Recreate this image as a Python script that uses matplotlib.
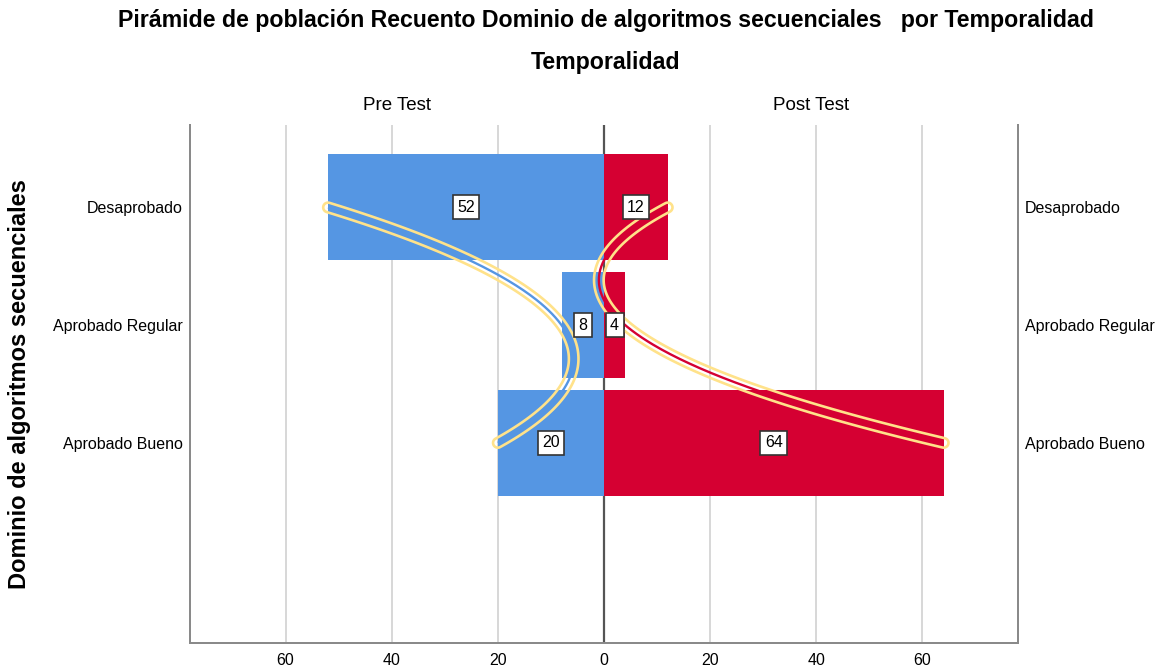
import numpy as np
import matplotlib
matplotlib.use('Agg')
import matplotlib.pyplot as plt
from matplotlib.patches import Polygon

categories = ['Desaprobado', 'Aprobado Regular', 'Aprobado Bueno']
pre_test = [52, 8, 20]
post_test = [12, 4, 64]
n_slots = 4  # one empty category slot at the bottom
ticks = [-60, -40, -20, 0, 20, 40, 60]

blue = '#5596E3'
red = '#D50032'
yellow = '#FFE28A'

plt.rcParams['font.family'] = ['Liberation Sans', 'DejaVu Sans']

fig = plt.figure(figsize=(11.62, 6.72), dpi=100)
ax = fig.add_axes([190/1162, 29/672, 828/1162, 518/672])
ax.set_xlim(-78, 78)
ax.set_ylim(n_slots - 0.3, -0.7)

y = np.arange(len(categories))
for t in ticks:
    if t != 0:
        ax.axvline(t, color='#d4d4d4', lw=1.3, zorder=0)
ax.axvline(0, color='#555555', lw=1.6, zorder=0.5)

ax.barh(y, [-v for v in pre_test], height=0.9, color=blue, zorder=2)
ax.barh(y, post_test, height=0.9, color=red, zorder=2)

# value boxes
for i in range(len(categories)):
    for v in (-pre_test[i], post_test[i]):
        ax.text(v/2, y[i], str(abs(v)), ha='center', va='center', fontsize=11.5, zorder=6,
                bbox=dict(boxstyle='square,pad=0.28', fc='white', ec='#333333', lw=1.2))

# smooth curves through the bar ends, outlined like SPSS
def capsule(xs, ys, r):
    P = ax.transData.transform(np.column_stack([xs, ys]))
    d = np.gradient(P, axis=0)
    d /= np.linalg.norm(d, axis=1)[:, None]
    nrm = np.column_stack([-d[:, 1], d[:, 0]])
    left = P + r*nrm
    right = P - r*nrm
    a_end = np.arctan2(nrm[-1, 1], nrm[-1, 0])
    s = np.sign(np.cross(nrm[-1], d[-1]))
    th = a_end + s*np.linspace(0, np.pi, 20)
    cap_end = P[-1] + r*np.column_stack([np.cos(th), np.sin(th)])
    a_st = np.arctan2(-nrm[0, 1], -nrm[0, 0])
    th = a_st + s*np.linspace(0, np.pi, 20)
    cap_st = P[0] + r*np.column_stack([np.cos(th), np.sin(th)])
    poly = np.vstack([left, cap_end, right[::-1], cap_st])
    return ax.transData.inverted().transform(poly)

yy = np.linspace(0, len(categories) - 1, 200)
for vals, col in ((-np.array(pre_test), blue), (np.array(post_test), red)):
    coef = np.polyfit(y, vals, 2)
    xx = np.polyval(coef, yy)
    ax.add_patch(Polygon(capsule(xx, yy, 4.8), closed=True, fill=False,
                         ec=yellow, lw=1.9, zorder=4))
    ax.plot(xx, yy, color=col, lw=1.7, zorder=4.5, solid_capstyle='butt')

ax.set_xticks(ticks)
ax.set_xticklabels([str(abs(t)) for t in ticks], fontsize=11.5)
ax.tick_params(axis='x', length=0, pad=7)
ax.set_yticks(y)
ax.set_yticklabels(categories, fontsize=11.5)
ax.tick_params(axis='y', length=0, pad=5)
ax2 = ax.twinx()
ax2.set_ylim(ax.get_ylim())
ax2.set_yticks(y)
ax2.set_yticklabels(categories, fontsize=11.5)
ax2.tick_params(axis='y', length=0, pad=5)

for a in (ax, ax2):
    a.spines['top'].set_visible(False)
    for s in ('left', 'right', 'bottom'):
        a.spines[s].set_color('#8a8a8a')
        a.spines[s].set_linewidth(1.4)

fig.text(20/1162, 0.5 * (1 - 125/672 + 29/672), 'Dominio de algoritmos secuenciales', rotation=90,
         ha='center', va='center', fontsize=17, fontweight='bold')

ax.text(0.25, 1.022, 'Pre Test', transform=ax.transAxes, ha='center', va='bottom', fontsize=13.5)
ax.text(0.75, 1.022, 'Post Test', transform=ax.transAxes, ha='center', va='bottom', fontsize=13.5)

fig.text(606/1162, 1 - 21/672, 'Pirámide de población Recuento Dominio de algoritmos secuenciales   por Temporalidad',
         ha='center', va='center', fontsize=16.7, fontweight='bold')
fig.text(606/1162, 1 - 63/672, 'Temporalidad', ha='center', va='center', fontsize=16.7,
         fontweight='bold')

fig.savefig('out.png', dpi=100)
